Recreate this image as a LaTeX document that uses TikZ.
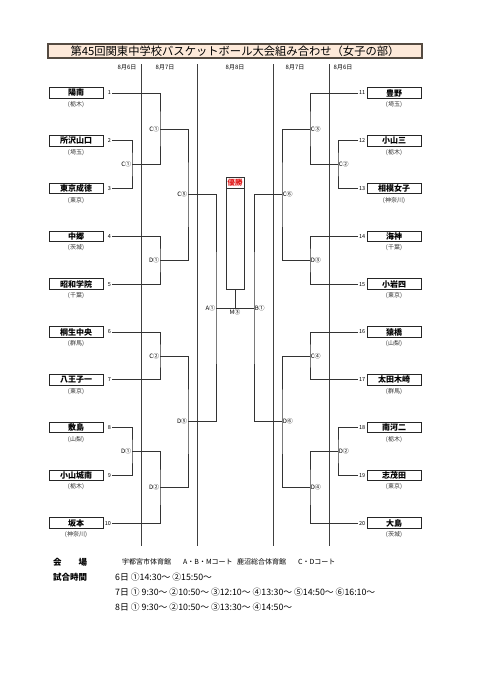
\documentclass[tikz,border=0pt]{standalone}
\usepackage{fontspec}
\setmainfont{Noto Sans CJK JP}
\usepackage{xcolor}
\usepackage{tikz}
\usetikzlibrary{positioning,calc}

\definecolor{titlefill}{RGB}{253,233,217}
\definecolor{titleline}{RGB}{85,75,65}
\definecolor{winred}{RGB}{225,20,20}
\newcommand{\fsz}[1]{\fontsize{#1}{#1}\selectfont}

\begin{document}
\begin{tikzpicture}[
    x=1pt, y=-1pt,
    titlebox/.style={rectangle, draw=titleline, line width=1.3pt, fill=titlefill, minimum width=374pt, minimum height=14pt, inner sep=0pt, font=\fsz{11.3}},
    team/.style={rectangle, draw=black!85, line width=1pt, minimum width=54pt, minimum height=10.5pt, inner sep=0pt, font=\fsz{8}\bfseries},
    pref/.style={font=\fsz{6}, text=black!80, inner sep=1pt},
    numl/.style={font=\fsz{5.5}, anchor=east, inner sep=0.8pt},
    numr/.style={font=\fsz{5.5}, anchor=west, inner sep=0.8pt},
    mlabl/.style={font=\fsz{6}, anchor=east, inner sep=0.6pt},
    mlabr/.style={font=\fsz{6}, anchor=west, inner sep=0.6pt},
    date/.style={font=\fsz{6}, inner sep=0pt},
    bline/.style={draw=black!80, line width=0.7pt},
    divider/.style={draw=black!75, line width=0.8pt},
    winbox/.style={rectangle, draw=black!80, line width=0.8pt, minimum width=18pt, minimum height=112pt, inner sep=0pt},
    winhead/.style={rectangle, draw=black!80, line width=0.8pt, minimum width=18pt, minimum height=11pt, inner sep=0pt, font=\fsz{7.5}\bfseries, text=winred},
    info/.style={anchor=west, inner sep=0pt, font=\fsz{8.8}},
    infohead/.style={anchor=west, inner sep=0pt, font=\fsz{8.5}\bfseries},
    hall/.style={anchor=west, inner sep=0pt, font=\fsz{7}}
]
\useasboundingbox (0,0) rectangle (481,680);

\node[titlebox] (title) at (235,51) {第45回関東中学校バスケットボール大会組み合わせ（女子の部）};

% day headers
\node[date] (day6l) at (127,67) {8月6日};
\node[date] (day7l) at (165,67) {8月7日};
\node[date] (day8) at (235,67) {8月8日};
\node[date] (day7r) at (295,67) {8月7日};
\node[date] (day6r) at (343,67) {8月6日};

\draw[divider] (141,64) -- (141,546);
\draw[divider] (197,64) -- (197,546);
\draw[divider] (273,64) -- (273,546);
\draw[divider] (329,64) -- (329,546);

% left teams
\node[team] (t1) at (76,93) {陽南}; \node[pref, below=1.5pt of t1] (p1) {(栃木)}; \node[numl] (n1) at (112,93) {1};
\node[team] (t2) at (76,140.8) {所沢山口}; \node[pref, below=1.5pt of t2] (p2) {(埼玉)}; \node[numl] (n2) at (112,140.8) {2};
\node[team] (t3) at (76,188.6) {東京成徳}; \node[pref, below=1.5pt of t3] (p3) {(東京)}; \node[numl] (n3) at (112,188.6) {3};
\node[team] (t4) at (76,236.4) {中郷}; \node[pref, below=1.5pt of t4] (p4) {(茨城)}; \node[numl] (n4) at (112,236.4) {4};
\node[team] (t5) at (76,284.2) {昭和学院}; \node[pref, below=1.5pt of t5] (p5) {(千葉)}; \node[numl] (n5) at (112,284.2) {5};
\node[team] (t6) at (76,332) {桐生中央}; \node[pref, below=1.5pt of t6] (p6) {(群馬)}; \node[numl] (n6) at (112,332) {6};
\node[team] (t7) at (76,379.8) {八王子一}; \node[pref, below=1.5pt of t7] (p7) {(東京)}; \node[numl] (n7) at (112,379.8) {7};
\node[team] (t8) at (76,427.6) {敷島}; \node[pref, below=1.5pt of t8] (p8) {(山梨)}; \node[numl] (n8) at (112,427.6) {8};
\node[team] (t9) at (76,475.4) {小山城南}; \node[pref, below=1.5pt of t9] (p9) {(栃木)}; \node[numl] (n9) at (112,475.4) {9};
\node[team] (t10) at (76,523.2) {坂本}; \node[pref, below=1.5pt of t10] (p10) {(神奈川)}; \node[numl] (n10) at (112,523.2) {10};

% right teams
\node[team] (t11) at (394,93) {豊野}; \node[pref, below=1.5pt of t11] (p11) {(埼玉)}; \node[numr] (n11) at (358,93) {11};
\node[team] (t12) at (394,140.8) {小山三}; \node[pref, below=1.5pt of t12] (p12) {(栃木)}; \node[numr] (n12) at (358,140.8) {12};
\node[team] (t13) at (394,188.6) {相模女子}; \node[pref, below=1.5pt of t13] (p13) {(神奈川)}; \node[numr] (n13) at (358,188.6) {13};
\node[team] (t14) at (394,236.4) {海神}; \node[pref, below=1.5pt of t14] (p14) {(千葉)}; \node[numr] (n14) at (358,236.4) {14};
\node[team] (t15) at (394,284.2) {小岩四}; \node[pref, below=1.5pt of t15] (p15) {(東京)}; \node[numr] (n15) at (358,284.2) {15};
\node[team] (t16) at (394,332) {猿橋}; \node[pref, below=1.5pt of t16] (p16) {(山梨)}; \node[numr] (n16) at (358,332) {16};
\node[team] (t17) at (394,379.8) {太田木崎}; \node[pref, below=1.5pt of t17] (p17) {(群馬)}; \node[numr] (n17) at (358,379.8) {17};
\node[team] (t18) at (394,427.6) {南河二}; \node[pref, below=1.5pt of t18] (p18) {(栃木)}; \node[numr] (n18) at (358,427.6) {18};
\node[team] (t19) at (394,475.4) {志茂田}; \node[pref, below=1.5pt of t19] (p19) {(東京)}; \node[numr] (n19) at (358,475.4) {19};
\node[team] (t20) at (394,523.2) {大島}; \node[pref, below=1.5pt of t20] (p20) {(茨城)}; \node[numr] (n20) at (358,523.2) {20};

% match points
\coordinate (c1a) at (132,164.7);
\coordinate (c1b) at (160,128.85);
\coordinate (d1a) at (160,260.3);
\coordinate (c5) at (188,194.6);
\coordinate (c2) at (160,355.9);
\coordinate (d1b) at (132,451.5);
\coordinate (d2) at (160,487.35);
\coordinate (d5) at (188,421.6);
\coordinate (a1) at (216,308.1);
\coordinate (m3) at (235,308.1);
\coordinate (b1) at (254,308.1);
\coordinate (c2r) at (338,164.7);
\coordinate (c3) at (310,128.85);
\coordinate (d3) at (310,260.3);
\coordinate (c6) at (282,194.6);
\coordinate (c4) at (310,355.9);
\coordinate (d2r) at (338,451.5);
\coordinate (d4) at (310,487.35);
\coordinate (d6) at (282,421.6);

% winner
\node[winbox] (win) at (235,233) {};
\node[winhead, anchor=north] (winh) at (win.north) {優勝};

% left bracket
\draw[bline] (n1.east) -| (c1b) |- (c1a);
\draw[bline] (n2.east) -| (c1a) |- (n3.east);
\draw[bline] (c1b) -| (c5) |- (d1a);
\draw[bline] (n4.east) -| (d1a) |- (n5.east);
\draw[bline] (c5) -| (a1) |- (d5);
\draw[bline] (c2) -| (d5) |- (d2);
\draw[bline] (n6.east) -| (c2) |- (n7.east);
\draw[bline] (n8.east) -| (d1b) |- (n9.east);
\draw[bline] (d1b) -| (d2) |- (n10.east);

% right bracket
\draw[bline] (n11.west) -| (c3) |- (c2r);
\draw[bline] (n12.west) -| (c2r) |- (n13.west);
\draw[bline] (c3) -| (c6) |- (d3);
\draw[bline] (n14.west) -| (d3) |- (n15.west);
\draw[bline] (c6) -| (b1) |- (d6);
\draw[bline] (c4) -| (d6) |- (d4);
\draw[bline] (n16.west) -| (c4) |- (n17.west);
\draw[bline] (n18.west) -| (d2r) |- (n19.west);
\draw[bline] (d2r) -| (d4) |- (n20.west);

% final
\draw[bline] (a1) -- (b1);
\draw[bline] (m3) -- (win.south);

% match labels
\node[mlabl] (lc1a) at (c1a) {C①};
\node[mlabl] (lc1b) at (c1b) {C①};
\node[mlabl] (ld1a) at (d1a) {D①};
\node[mlabl] (lc5) at (c5) {C⑤};
\node[mlabl] (lc2) at (c2) {C②};
\node[mlabl] (ld1b) at (d1b) {D①};
\node[mlabl] (ld2) at (d2) {D②};
\node[mlabl] (ld5) at (d5) {D⑤};
\node[mlabl] (la1) at (a1) {A①};
\node[mlabr] (lb1) at (b1) {B①};
\node[font=\fsz{6}, anchor=north, inner sep=1.5pt] (lm3) at (m3) {M③};
\node[mlabr] (lc2r) at (c2r) {C②};
\node[mlabr] (lc3) at (c3) {C③};
\node[mlabr] (ld3) at (d3) {D③};
\node[mlabr] (lc6) at (c6) {C⑥};
\node[mlabr] (lc4) at (c4) {C④};
\node[mlabr] (ld2r) at (d2r) {D②};
\node[mlabr] (ld4) at (d4) {D④};
\node[mlabr] (ld6) at (d6) {D⑥};

% venue and times
\node[infohead] (venue) at (53,562) {会　　場};
\node[hall] (hall1) at (122,562) {宇都宮市体育館};
\node[hall] (court1) at (183,562) {A・B・Mコート};
\node[hall] (hall2) at (237,562) {鹿沼総合体育館};
\node[hall] (court2) at (298,562) {C・Dコート};
\node[infohead] (times) at (53,577) {試合時間};
\node[info] (time6) at (115,577) {6日 ①14:30～ ②15:50～};
\node[info] (time7) at (115,592) {7日 ① 9:30～ ②10:50～ ③12:10～ ④13:30～ ⑤14:50～ ⑥16:10～};
\node[info] (time8) at (115,607) {8日 ① 9:30～ ②10:50～ ③13:30～ ④14:50～};

\end{tikzpicture}
\end{document}
